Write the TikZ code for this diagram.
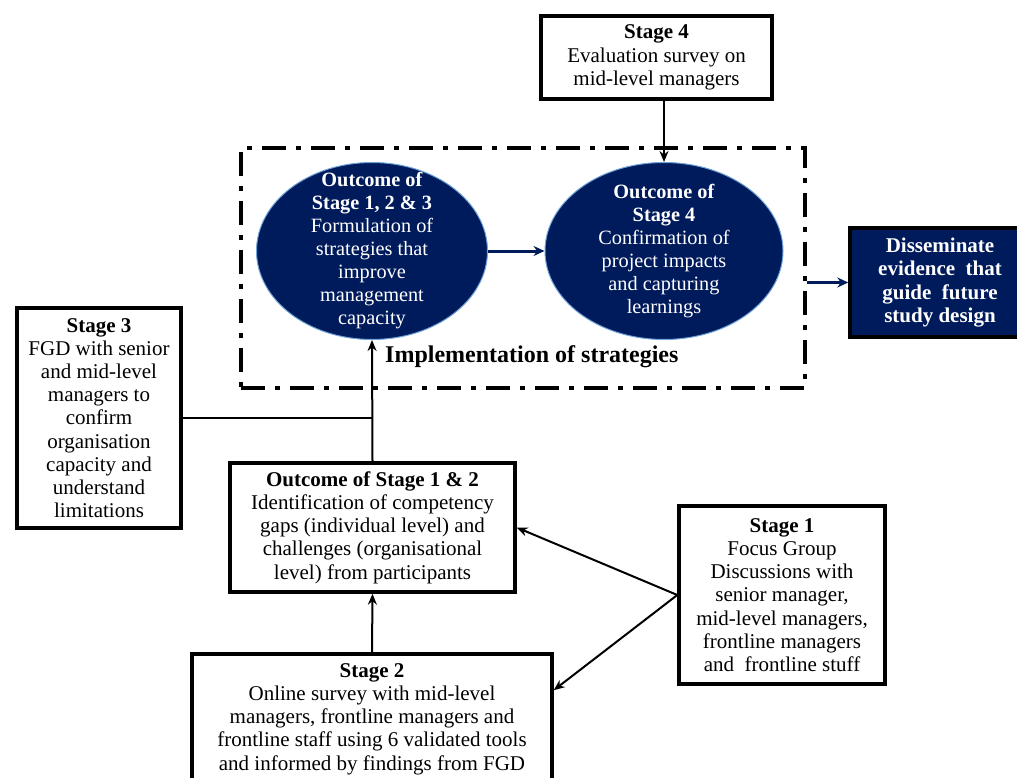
\documentclass[tikz,border=0pt]{standalone}
\usepackage{fontspec}
\setmainfont{Liberation Serif}
\usetikzlibrary{arrows.meta,shapes.geometric,calc}
\definecolor{navy}{HTML}{001B5C}
\definecolor{rim}{HTML}{6FA3D8}
\tikzset{
  box/.style={draw=black,line width=3.4pt,fill=white,align=center,inner sep=2pt,font=\fontsize{21}{23.2}\selectfont},
  ell/.style={ellipse,draw=rim,line width=1pt,fill=navy,inner sep=0pt},
  etext/.style={align=center,text=white,font=\fontsize{20.3}{23}\selectfont},
  frame/.style={draw=black,line width=4pt,dash pattern=on 24pt off 10pt on 5pt off 10pt,inner sep=0pt},
  conn/.style={draw=black,line width=2pt,-{Stealth[length=11pt,width=9pt]}},
  plain/.style={draw=black,line width=2pt},
  bconn/.style={draw=navy,line width=3pt,-{Stealth[length=11pt,width=10pt]}},
  dbox/.style={draw=black,line width=3.4pt,fill=navy,text=white,align=center,font=\fontsize{21}{23.5}\selectfont\bfseries},
}
\begin{document}
\begin{tikzpicture}[x=1pt,y=-1pt]
\useasboundingbox (0,0) rectangle (1017,778);

\node[frame,minimum width=564pt,minimum height=240pt] (fr) at (523,268) {};

\node[box,minimum width=231pt,minimum height=83pt] (s4) at (656.5,57.5)
  {\textbf{Stage 4}\\Evaluation survey on\\mid-level managers};

\node[ell,minimum width=231pt,minimum height=177pt] (e1) at (372,251) {};
\node[etext] (t1) at (e1.center) {\textbf{Outcome of}\\\textbf{Stage 1, 2 \& 3}\\Formulation of\\strategies that\\improve\\management\\capacity};

\node[ell,minimum width=238pt,minimum height=177pt] (e2) at (664,251) {};
\node[etext] (t2) at (e2.center) {\textbf{Outcome of}\\\textbf{Stage 4}\\Confirmation of\\project impacts\\and capturing\\learnings};

\node[font=\fontsize{24}{26}\selectfont\bfseries,anchor=west,inner sep=0pt] (impl) at (385,357) {Implementation of strategies};

\node[dbox,minimum width=180pt,minimum height=109pt] (dis) at (940,282.5)
  {Disseminate\\evidence~ that\\guide~ future\\study design};

\node[box,minimum width=164pt,minimum height=220pt] (s3) at (99,418)
  {\textbf{Stage 3}\\FGD with senior\\and mid-level\\managers to\\confirm\\organisation\\capacity and\\understand\\limitations};

\node[box,minimum width=285pt,minimum height=129pt] (o12) at (372.5,527.5)
  {\textbf{Outcome of Stage 1 \& 2}\\Identification of competency\\gaps (individual level) and\\challenges (organisational\\level) from participants};

\node[box,minimum width=360pt,minimum height=130pt] (s2) at (372,719)
  {\textbf{Stage 2}\\Online survey with mid-level\\managers, frontline managers and\\frontline staff using 6 validated tools\\and informed by findings from FGD};

\node[box,minimum width=206pt,minimum height=178pt] (s1) at (782,595)
  {\textbf{Stage 1}\\Focus Group\\Discussions with\\senior manager,\\mid-level managers,\\frontline managers\\and~ frontline stuff};

% connectors
\draw[conn] (s4.south -| e2.north) -- (e2.north);
\draw[bconn] (e1.east) -- (e2.west);
\draw[bconn] (fr.east |- dis.west) -- (dis.west);
\draw[conn] (o12.north) -- (e1.south);
\draw[plain] (s3.east) -- (s3.east -| o12.north);
\draw[conn] (s2.north) -- (o12.south);
\draw[conn] (s1.west) -- (o12.east);
\draw[conn] (s1.west) -- (s2.9);
\end{tikzpicture}
\end{document}
